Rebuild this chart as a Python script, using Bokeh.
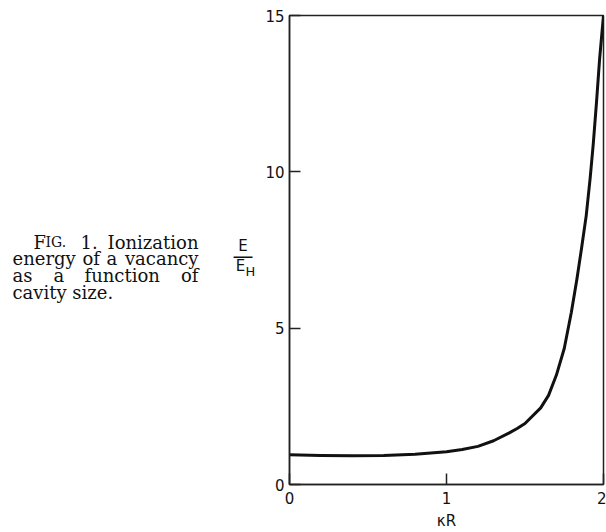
from bokeh.plotting import figure
from bokeh.models import Range1d, FixedTicker, Label
from bokeh.layouts import row
from bokeh.embed import file_html
from bokeh.resources import INLINE

# Data
kR = [0, 0.2, 0.4, 0.6, 0.8, 1.0, 1.1, 1.2, 1.3, 1.4, 1.45, 1.5, 1.6, 1.65,
      1.7, 1.75, 1.795, 1.83, 1.86, 1.89, 1.915, 1.935, 1.955, 1.975, 2.0]
E_over_EH = [0.95, 0.93, 0.92, 0.93, 0.97, 1.05, 1.12, 1.22, 1.4, 1.65, 1.79,
             1.95, 2.45, 2.85, 3.5, 4.35, 5.5, 6.55, 7.55, 8.6, 9.8, 10.9,
             12.2, 13.6, 15.0]
x_ticks = [0, 1, 2]
y_ticks = [0, 5, 10, 15]

SANS = "DejaVu Sans"
SERIF = "DejaVu Serif"
INK = "#111111"

TOP, BOTTOM = 15, 47          # borders shared by both panels (row aligns frames)
H = 532

# ---- left panel: caption and y-axis label (page pixel coordinates) ----
LW = 262
cap = figure(width=LW, height=H, output_backend="svg", toolbar_location=None,
             x_range=Range1d(0, LW), y_range=Range1d(H - BOTTOM, TOP),
             min_border_left=0, min_border_right=0,
             min_border_top=TOP, min_border_bottom=BOTTOM,
             x_axis_location=None, y_axis_location=None,
             outline_line_color=None)
cap.grid.visible = False
cap.background_fill_color = "white"
cap.border_fill_color = "white"


def lab(text, px, py, font, size, align="left"):
    cap.add_layout(Label(x=px, y=py, text=text, text_font=font,
                         text_font_size=size, text_align=align,
                         text_baseline="alphabetic", text_color=INK))


# fraction E / E_H
lab("E", 242.5, 246, SANS, "15px", "center")
lab("—", 242.5, 256, SANS, "21px", "center")
lab("E", 240, 266, SANS, "15px", "center")
lab("H", 250, 272, SANS, "13px", "center")

# caption text
cs = "18px"
lab("F", 33, 242, SERIF, cs)
lab("IG.", 45, 242, SERIF, "14px")
lab("1.", 80, 242, SERIF, cs)
lab("Ionization", 198, 242, SERIF, cs, "right")
lab("energy", 12, 259, SERIF, cs)
lab("of", 82, 259, SERIF, cs)
lab("a", 106, 259, SERIF, cs)
lab("vacancy", 198, 259, SERIF, cs, "right")
lab("as", 12, 276, SERIF, cs)
lab("a", 53, 276, SERIF, cs)
lab("function", 84, 276, SERIF, cs)
lab("of", 198, 276, SERIF, cs, "right")
lab("cavity size.", 12, 293, SERIF, cs)

# ---- main plot ----
p = figure(width=606 - LW, height=H, output_backend="svg",
           toolbar_location=None,
           x_range=Range1d(0, 2), y_range=Range1d(0, 15),
           min_border_left=288 - LW, min_border_right=3,
           min_border_top=TOP, min_border_bottom=BOTTOM)
p.background_fill_color = "white"
p.border_fill_color = "white"
p.outline_line_color = "#222222"
p.outline_line_width = 1.5
p.xgrid.visible = False
p.ygrid.visible = False

for ax in (p.xaxis[0], p.yaxis[0]):
    ax.axis_line_color = "#222222"
    ax.axis_line_width = 1.5
    ax.major_tick_in = 11
    ax.major_tick_out = 0
    ax.major_tick_line_color = "#222222"
    ax.major_tick_line_width = 1.5
    ax.minor_tick_line_color = None
    ax.major_label_text_font = SANS
    ax.major_label_text_font_size = "15px"
    ax.major_label_text_color = INK

p.xaxis[0].ticker = FixedTicker(ticks=x_ticks)
p.yaxis[0].ticker = FixedTicker(ticks=y_ticks)
p.xaxis[0].major_label_standoff = 7
p.yaxis[0].major_label_standoff = 5
p.xaxis[0].axis_label = "κR"
p.xaxis[0].axis_label_text_font = SANS
p.xaxis[0].axis_label_text_font_size = "15px"
p.xaxis[0].axis_label_text_font_style = "normal"
p.xaxis[0].axis_label_text_color = INK
p.xaxis[0].axis_label_standoff = 5

p.line(kR, E_over_EH, line_color=INK, line_width=3, line_join="round")

layout = row(cap, p, spacing=0)
open("out.html", "w").write(file_html(layout, INLINE))
